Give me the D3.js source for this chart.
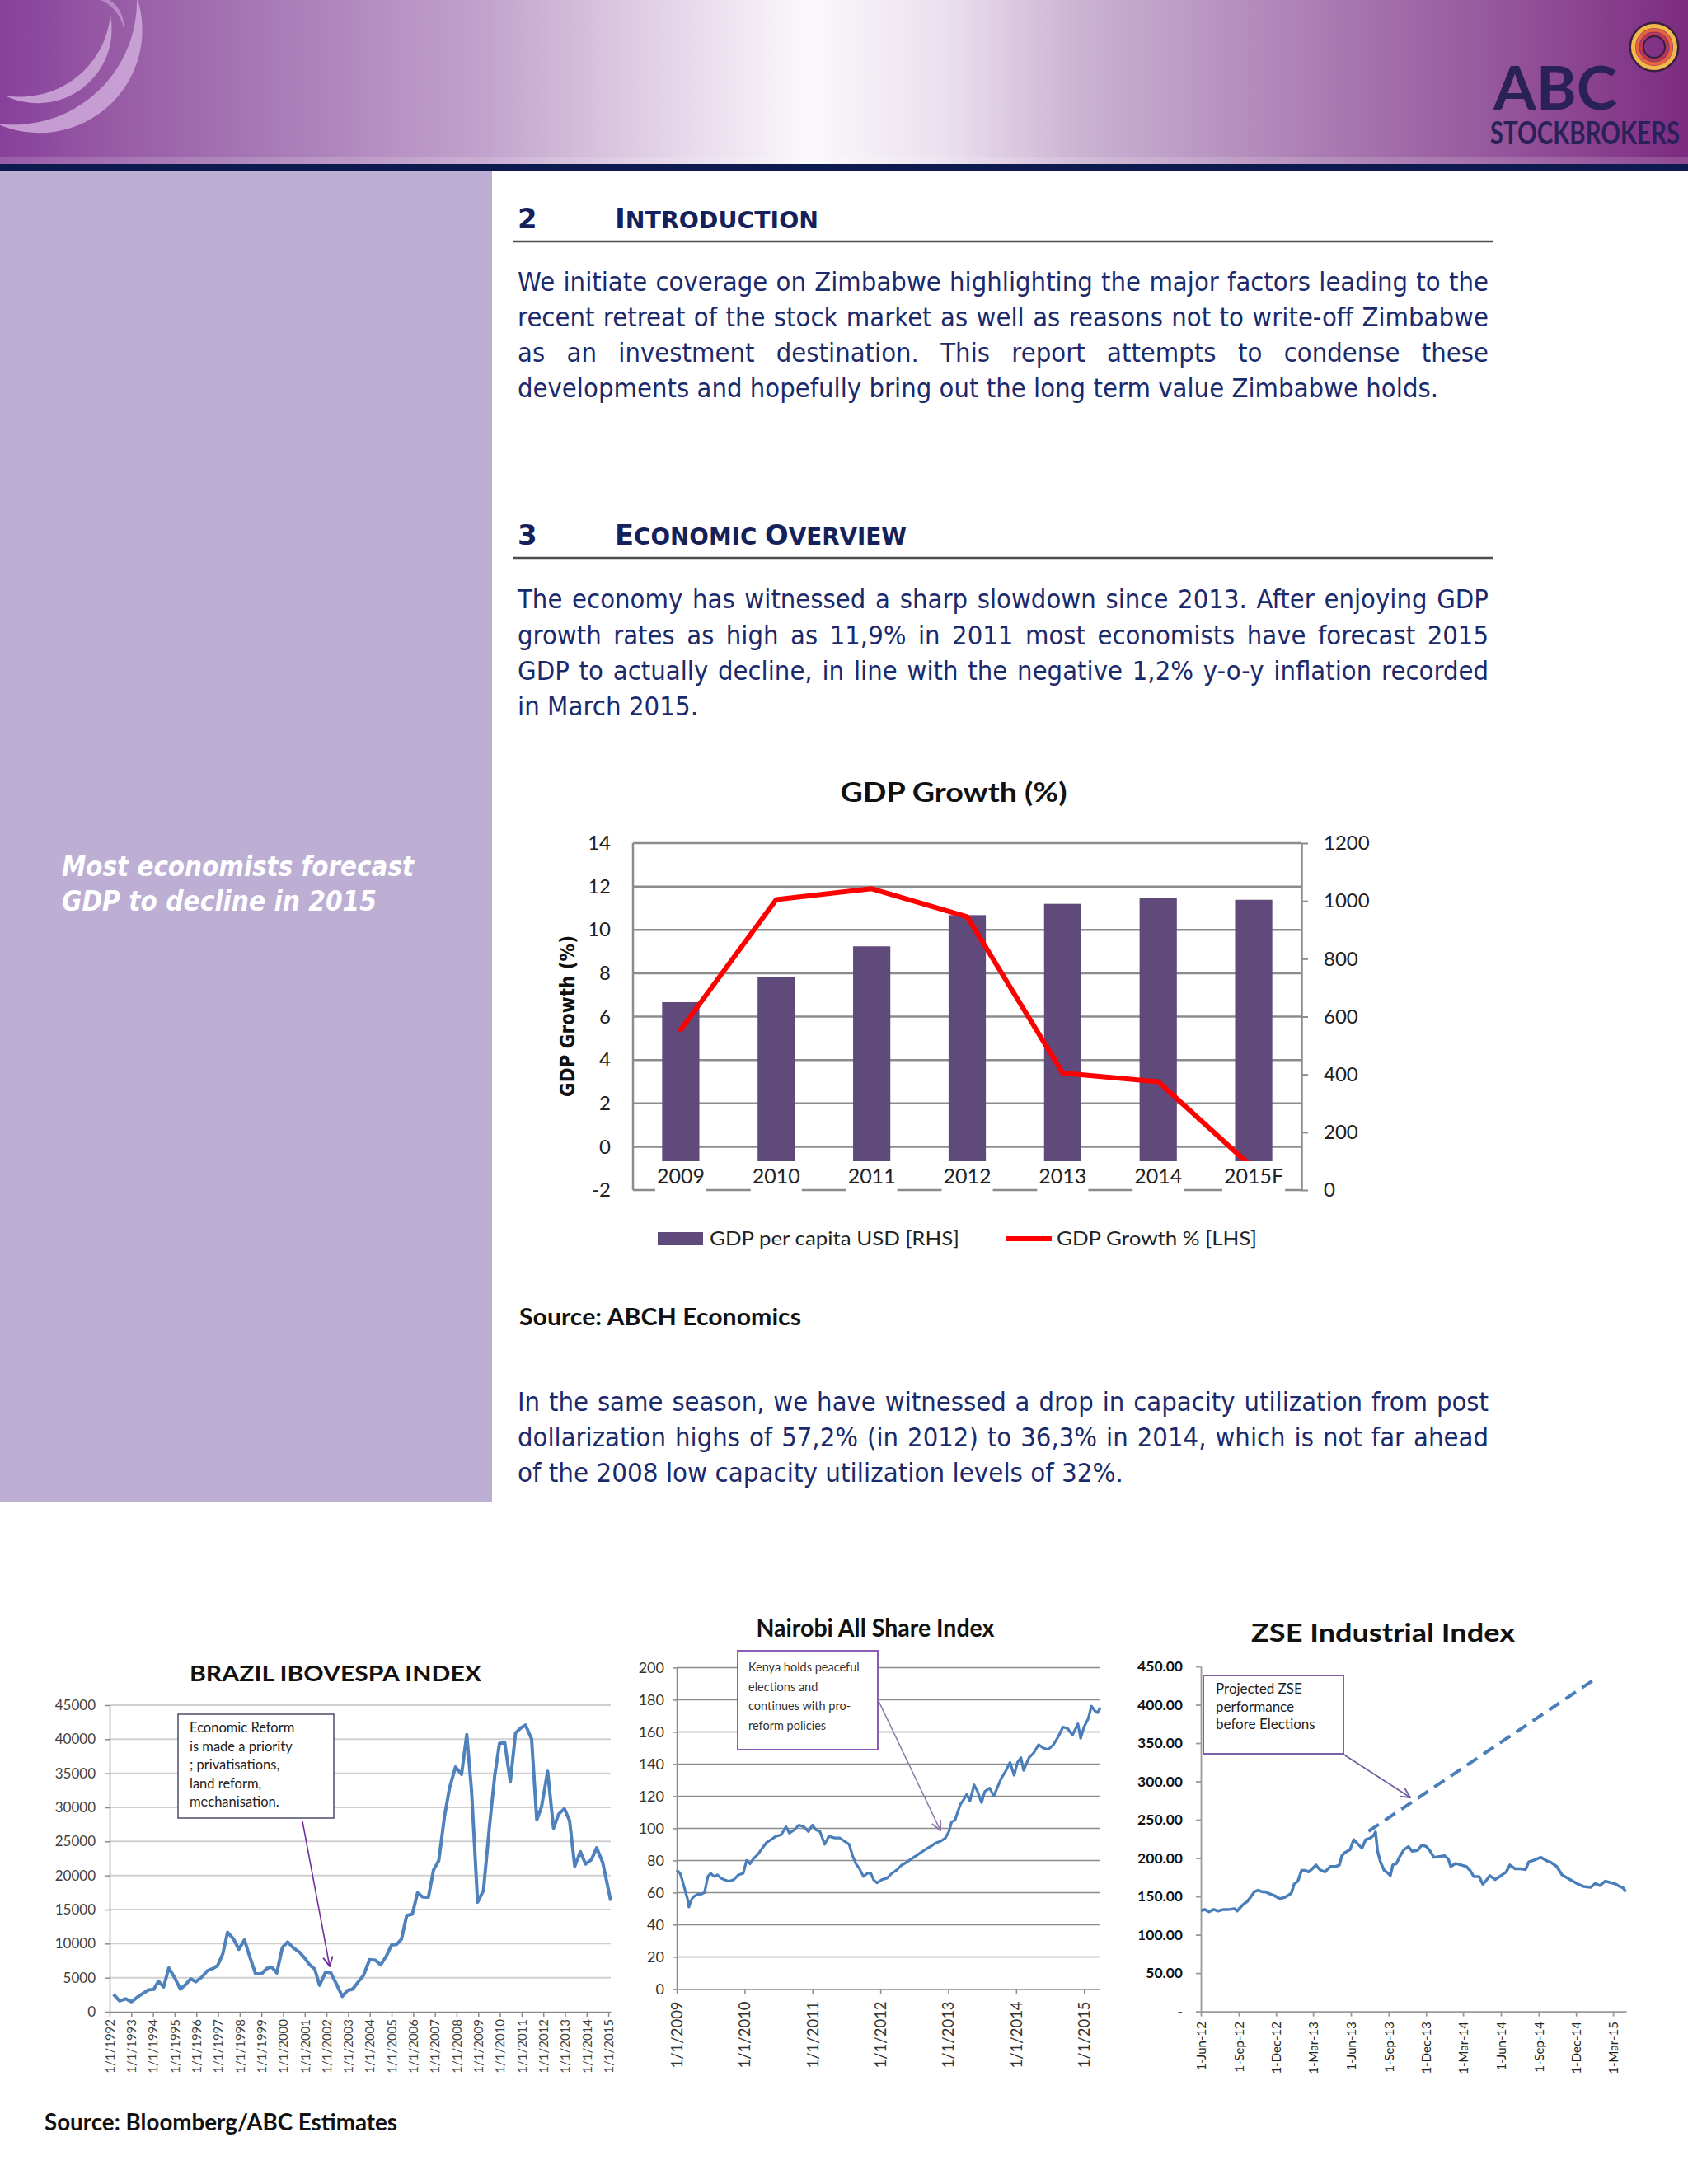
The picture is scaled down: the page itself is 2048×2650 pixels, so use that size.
<!DOCTYPE html>
<html><head><meta charset="utf-8"><title>ABC Stockbrokers – Zimbabwe</title>
<script src="https://cdn.jsdelivr.net/npm/d3@7/dist/d3.min.js"></script>
<style>html,body{margin:0;padding:0;background:#fff;} svg{display:block;}</style>
</head><body>
<svg id="page" width="2048" height="2650" xmlns="http://www.w3.org/2000/svg"></svg>
<script>
// ---------------- DATA ----------------
const introLines = [
  "We initiate coverage on Zimbabwe highlighting the major factors leading to the",
  "recent retreat of the stock market as well as reasons not to write-off Zimbabwe",
  "as an investment destination. This report attempts to condense these",
  "developments and hopefully bring out the long term value Zimbabwe holds."];
const overviewLines = [
  "The economy has witnessed a sharp slowdown since 2013. After enjoying GDP",
  "growth rates as high as 11,9% in 2011 most economists have forecast 2015",
  "GDP to actually decline, in line with the negative 1,2% y-o-y inflation recorded",
  "in March 2015."];
const capacityLines = [
  "In the same season, we have witnessed a drop in capacity utilization from post",
  "dollarization highs of 57,2% (in 2012) to 36,3% in 2014, which is not far ahead",
  "of the 2008 low capacity utilization levels of 32%."];
const sidebarLines = ["Most economists forecast", "GDP to decline in 2015"];

const gdpYears = ["2009","2010","2011","2012","2013","2014","2015F"];
const gdpPerCapita = [650, 736, 843, 951, 990, 1011, 1004];
const gdpGrowth = [5.4, 11.4, 11.9, 10.6, 3.4, 3.0, -1.0];
const gdpLeftTicks = [-2, 0, 2, 4, 6, 8, 10, 12, 14];
const gdpRightTicks = [0, 200, 400, 600, 800, 1000, 1200];
const gdpLegend = ["GDP per capita USD [RHS]", "GDP Growth % [LHS]"];

const brazilYears = [1992.18,1992.46,1992.74,1993.01,1993.29,1993.57,1993.79,1994.03,1994.25,1994.49,
  1994.73,1995.01,1995.26,1995.50,1995.74,1995.97,1996.24,1996.52,1996.76,1996.98,
  1997.22,1997.44,1997.72,1997.96,1998.22,1998.46,1998.73,1999.01,1999.25,1999.47,
  1999.71,1999.97,2000.21,2000.48,2000.76,2000.98,2001.22,2001.46,2001.68,2001.96,
  2002.20,2002.46,2002.73,2002.97,2003.21,2003.47,2003.71,2003.99,2004.26,2004.50,
  2004.76,2005.00,2005.24,2005.46,2005.70,2005.96,2006.20,2006.44,2006.70,2006.94,
  2007.18,2007.44,2007.68,2007.95,2008.23,2008.47,2008.69,2008.97,2009.24,2009.52,
  2009.76,2009.98,2010.22,2010.48,2010.72,2010.96,2011.18,2011.46,2011.70,2011.92,
  2012.20,2012.47,2012.71,2012.97,2013.21,2013.45,2013.71,2013.95,2014.22,2014.46,
  2014.74,2015.11];
const brazilValues = [2550,1600,1900,1470,2160,2760,3200,3280,4490,3630,
  6430,4920,3330,3970,4840,4400,5050,6050,6350,6780,
  8510,11660,10670,9160,10540,8080,5570,5570,6350,6560,
  5700,9460,10240,9370,8720,7950,6910,6260,3890,5830,
  5700,4060,2250,3110,3330,4400,5360,7650,7560,6870,
  8160,9800,9890,10670,14120,14340,17450,16840,16800,20820,
  22200,28590,32910,35930,34850,40680,32480,16070,17790,27300,
  34640,39390,39520,33770,40900,41640,42070,40040,28160,30100,
  35290,26950,29020,29800,28070,21340,23500,21680,22330,24060,
  21900,16280];
const brazilTickYears = [1992,1993,1994,1995,1996,1997,1998,1999,2000,2001,2002,2003,
  2004,2005,2006,2007,2008,2009,2010,2011,2012,2013,2014,2015];
const brazilTicks = [0,5000,10000,15000,20000,25000,30000,35000,40000,45000];
const brazilNote = ["Economic Reform","is made a priority","; privatisations,","land reform,","mechanisation."];

const nairobiYears = [2009.00,2009.05,2009.08,2009.12,2009.16,2009.18,2009.21,2009.24,2009.27,2009.31,
  2009.36,2009.41,2009.46,2009.50,2009.55,2009.60,2009.65,2009.70,2009.77,2009.84,
  2009.91,2009.98,2010.03,2010.08,2010.13,2010.20,2010.25,2010.32,2010.39,2010.46,
  2010.54,2010.61,2010.66,2010.73,2010.80,2010.87,2010.94,2011.00,2011.05,2011.11,
  2011.18,2011.24,2011.33,2011.40,2011.47,2011.54,2011.59,2011.64,2011.69,2011.75,
  2011.81,2011.86,2011.90,2011.95,2012.02,2012.10,2012.17,2012.24,2012.31,2012.39,
  2012.46,2012.53,2012.60,2012.67,2012.75,2012.82,2012.89,2012.96,2013.01,2013.05,
  2013.10,2013.13,2013.18,2013.23,2013.27,2013.32,2013.38,2013.43,2013.49,2013.54,
  2013.61,2013.67,2013.73,2013.78,2013.85,2013.91,2013.97,2014.02,2014.07,2014.11,
  2014.19,2014.26,2014.33,2014.40,2014.47,2014.55,2014.62,2014.69,2014.76,2014.83,
  2014.91,2014.95,2015.00,2015.06,2015.11,2015.16,2015.20,2015.24];
const nairobiValues = [74,72,68,62,56,51,55,57,58,59,
  59,60,70,72,70,71,69,68,67,68,
  71,72,80,78,81,84,87,91,93,95,
  96,101,97,99,102,101,98,102,99,98,
  90,95,94,94,92,90,83,78,75,70,
  72,72,68,66,68,69,72,74,77,79,
  81,83,85,87,89,91,92,94,98,104,
  105,109,115,118,121,117,127,123,116,123,
  125,120,126,131,136,141,133,141,144,136,
  144,147,152,150,149,152,157,163,162,158,
  165,156,163,168,176,173,172,175];
const nairobiTickYears = [2009,2010,2011,2012,2013,2014,2015];
const nairobiTicks = [0,20,40,60,80,100,120,140,160,180,200];
const nairobiNote = ["Kenya holds peaceful","elections and","continues with pro-","reform policies"];

const zseDates = ["2012-06-01","2012-06-10","2012-06-21","2012-07-02","2012-07-13","2012-07-26","2012-08-08","2012-08-22","2012-08-28","2012-09-04",
  "2012-09-13","2012-09-21","2012-09-30","2012-10-09","2012-10-18","2012-10-28","2012-11-04","2012-11-13","2012-11-27","2012-12-10",
  "2012-12-23","2013-01-01","2013-01-07","2013-01-14","2013-01-23","2013-02-01","2013-02-10","2013-02-18","2013-02-27","2013-03-08",
  "2013-03-17","2013-03-30","2013-04-12","2013-04-25","2013-05-04","2013-05-10","2013-05-17","2013-05-30","2013-06-08","2013-06-17",
  "2013-06-28","2013-07-07","2013-07-18","2013-07-27","2013-07-31","2013-08-05","2013-08-12","2013-08-21","2013-08-31","2013-09-05",
  "2013-09-11","2013-09-20","2013-09-29","2013-10-08","2013-10-19","2013-10-28","2013-11-10","2013-11-21","2013-12-02","2013-12-11",
  "2013-12-20","2014-01-02","2014-01-15","2014-01-24","2014-01-30","2014-02-11","2014-02-24","2014-03-09","2014-03-18","2014-03-27",
  "2014-04-09","2014-04-18","2014-04-25","2014-05-05","2014-05-18","2014-06-01","2014-06-14","2014-06-23","2014-07-06","2014-07-19",
  "2014-07-31","2014-08-08","2014-08-19","2014-09-06","2014-09-19","2014-10-02","2014-10-15","2014-10-28","2014-11-10","2014-11-23",
  "2014-12-06","2014-12-19","2015-01-06","2015-01-17","2015-01-28","2015-02-10","2015-02-23","2015-03-08","2015-03-17","2015-03-26",
  "2015-04-01"];
const zseValues = [131,133,130,133,131,133,133,134,131,135,
  140,143,149,156,158,156,156,154,151,147,
  149,152,154,166,170,184,184,182,186,191,
  185,182,189,189,191,203,207,211,224,219,
  213,224,226,230,234,209,195,184,180,177,
  191,193,203,211,215,209,210,217,215,209,
  201,202,203,199,189,193,191,189,184,176,
  176,166,170,177,172,177,182,191,186,186,
  185,195,197,201,197,194,189,178,174,170,
  166,163,162,167,164,170,168,166,163,161,
  156];
const zseProjDates = ["2013-07-14","2015-01-23"];
const zseProjValues = [235, 436];
const zseTickDates = ["2012-06-01","2012-09-01","2012-12-01","2013-03-01","2013-06-01","2013-09-01",
  "2013-12-01","2014-03-01","2014-06-01","2014-09-01","2014-12-01","2015-03-01"];
const zseTicks = [0,50,100,150,200,250,300,350,400,450];
const zseNote = ["Projected ZSE","performance","before Elections"];

// ---------------- DRAWING ----------------
const svg = d3.select("#page");
const defs = svg.append("defs");
const CAL = "Lato, 'Open Sans', 'Liberation Sans', sans-serif";
const TAH = "'DejaVu Sans', Verdana, sans-serif";
const NAVY = "#1b2a6b";
function fit(t, w) { return t.attr("textLength", w).attr("lengthAdjust", "spacingAndGlyphs"); }

// Header
const hg = defs.append("linearGradient").attr("id", "hdrGrad");
[[0,"#87409a"],[0.06,"#9658a4"],[0.15,"#a577b4"],[0.29,"#c3a3cd"],[0.38,"#dfcde4"],[0.48,"#fbf8fb"],
 [0.56,"#ebe0ee"],[0.64,"#cbb2d3"],[0.80,"#a676ae"],[0.92,"#8f4a95"],[1,"#7c2b80"]]
  .forEach(([o,c]) => hg.append("stop").attr("offset", o).attr("stop-color", c));
defs.append("clipPath").attr("id","hdrClip").append("rect").attr("x",0).attr("y",0).attr("width",2048).attr("height",199);
svg.append("rect").attr("x",0).attr("y",0).attr("width",2048).attr("height",199).attr("fill","url(#hdrGrad)");
function crescent(p1, p2, rOut, rIn) {
  return `M${p1[0]},${p1[1]} A${rOut},${rOut} 0 0 1 ${p2[0]},${p2[1]} A${rIn},${rIn} 0 0 0 ${p1[0]},${p1[1]} Z`;
}
const sw = svg.append("g").attr("clip-path","url(#hdrClip)").attr("fill","#cfaadb").attr("fill-opacity",0.85);
sw.append("path").attr("d", crescent([166,-4],[-4,150],125,150));
sw.append("path").attr("d", crescent([134,18],[6,116],90,110));
sw.append("path").attr("d", crescent([106,-4],[150,34],36,48)).attr("fill-opacity",0.6);
svg.append("rect").attr("x",0).attr("y",191).attr("width",2048).attr("height",8).attr("fill","#fff").attr("opacity",0.15);
svg.append("rect").attr("x",0).attr("y",199).attr("width",2048).attr("height",9).attr("fill","#0c1a4d");
// Logo
const lg = svg.append("g").attr("fill","none");
lg.append("circle").attr("cx",2007).attr("cy",57).attr("r",29).attr("stroke","#3a1f3f").attr("stroke-width",3);
lg.append("circle").attr("cx",2007).attr("cy",57).attr("r",25.5).attr("stroke","#f2b94a").attr("stroke-width",5);
lg.append("circle").attr("cx",2007).attr("cy",57).attr("r",20.5).attr("stroke","#e8653a").attr("stroke-width",4);
lg.append("circle").attr("cx",2007).attr("cy",57).attr("r",16).attr("stroke","#c4394a").attr("stroke-width",3);
lg.append("circle").attr("cx",2007).attr("cy",57).attr("r",13).attr("stroke","#3a1f3f").attr("stroke-width",2);
fit(svg.append("text").attr("x",1812).attr("y",133).attr("font-family",CAL).attr("font-weight",700)
  .attr("font-size",72).attr("fill","#2a2157").text("ABC"), 150);
fit(svg.append("text").attr("transform","translate(1808,175) scale(1,1.28)").attr("font-family",CAL).attr("font-weight",700)
  .attr("font-size",30).attr("fill","#2a2157").text("STOCKBROKERS"), 230);

// Sidebar
svg.append("rect").attr("x",0).attr("y",208).attr("width",597).attr("height",1614).attr("fill","#bdaed3");
[[1063,427],[1105,382]].forEach(([y,w],i) => fit(svg.append("text").attr("x",75).attr("y",y)
  .attr("font-family",TAH).attr("font-weight",700).attr("font-style","italic").attr("font-size",33)
  .attr("fill","#fff").text(sidebarLines[i]), w));

// Section headings
function heading(num, parts, y, w) {
  svg.append("text").attr("x",628).attr("y",y).attr("font-family",TAH).attr("font-weight",700)
    .attr("font-size",34).attr("fill","#14215a").text(num);
  const t = svg.append("text").attr("x",746).attr("y",y).attr("font-family",TAH).attr("font-weight",700).attr("fill","#14215a");
  parts.forEach(([s,big]) => t.append("tspan").attr("font-size", big ? 34 : 28).text(s));
  fit(t, w);
  svg.append("line").attr("x1",622).attr("x2",1812).attr("y1",y+16).attr("y2",y+16).attr("stroke","#4d4d4d").attr("stroke-width",2.5);
}
heading("2", [["I",1],["NTRODUCTION",0]], 277, 247);
heading("3", [["E",1],["CONOMIC ",0],["O",1],["VERVIEW",0]], 661, 354);

const PF = 32;
const probe = svg.append("text").attr("font-family",TAH).attr("font-size",PF).text(introLines[3]);
const SX = Math.min(1, 1117 / probe.node().getComputedTextLength());
probe.remove();
function para(lines, baselines, lastWidth) {
  const g = svg.append("g").attr("transform",`translate(628,0) scale(${SX},1)`);
  lines.forEach((s,i) => {
    const t = g.append("text").attr("x",0).attr("y",baselines[i]).attr("font-family",TAH)
      .attr("font-size",PF).attr("fill",NAVY).text(s);
    if (i < lines.length - 1) {
      const nat = t.node().getComputedTextLength();
      const sp = (s.match(/ /g) || []).length;
      t.style("word-spacing", ((1178 / SX - nat) / sp).toFixed(2) + "px");
    } else fit(t, lastWidth / SX);
  });
}
para(introLines, [353,396,439,482], 1117);
para(overviewLines, [738,782,825,868], 219);
para(capacityLines, [1712,1755,1798], 735);

// ---------- GDP chart ----------
const gx = d3.scaleBand().domain(gdpYears).range([768,1579]).paddingInner(0.61).paddingOuter(0.305);
const yL = d3.scaleLinear().domain([-2,14]).range([1444,1023]);
const yR = d3.scaleLinear().domain([0,1200]).range([1444,1023]);
const g1 = svg.append("g");
fit(g1.append("text").attr("x",1157).attr("y",973).attr("text-anchor","middle").attr("font-family",CAL)
  .attr("font-weight",700).attr("font-size",33).attr("fill","#111").text("GDP Growth (%)"), 275);
g1.selectAll("line.grid").data(gdpLeftTicks).join("line").attr("class","grid")
  .attr("x1",768).attr("x2",1579).attr("y1",d=>yL(d)).attr("y2",d=>yL(d))
  .attr("stroke","#8c8c8c").attr("stroke-width",2.5);
g1.selectAll("rect.bar").data(gdpPerCapita).join("rect").attr("class","bar")
  .attr("x",(d,i)=>gx(gdpYears[i])).attr("width",gx.bandwidth())
  .attr("y",d=>yR(d)).attr("height",d=>yR(0)-yR(d)).attr("fill","#5f4a7b");
g1.append("line").attr("x1",768).attr("x2",768).attr("y1",1023).attr("y2",1444).attr("stroke","#8c8c8c").attr("stroke-width",2.5);
const gdpLine = d3.line().x((d,i)=>gx(gdpYears[i])+gx.bandwidth()/2).y(d=>yL(d));
g1.append("path").datum(gdpGrowth).attr("d",gdpLine).attr("fill","none").attr("stroke","#ff0000")
  .attr("stroke-width",6).attr("stroke-linejoin","round").attr("stroke-linecap","round");
const catG = g1.selectAll("g.cat").data(gdpYears).join("g").attr("class","cat")
  .attr("transform",d=>`translate(${gx(d)+gx.bandwidth()/2},0)`);
catG.append("rect").attr("y",1409).attr("height",40).attr("fill","#fff");
catG.append("text").attr("y",1436).attr("text-anchor","middle").attr("font-family",CAL).attr("font-size",25)
  .attr("fill","#222").text(d=>d);
catG.each(function(){ const w = d3.select(this).select("text").node().getComputedTextLength();
  d3.select(this).select("rect").attr("x",-w/2-2).attr("width",w+4); });
const axL = g1.append("g").attr("transform","translate(768,0)")
  .call(d3.axisLeft(yL).tickValues(gdpLeftTicks).tickSize(0).tickPadding(27).tickFormat(d=>String(d)));
axL.select(".domain").remove();
axL.selectAll("text").attr("font-family",CAL).attr("font-size",24).attr("fill","#222");
const axR = g1.append("g").attr("transform","translate(1579,0)")
  .call(d3.axisRight(yR).tickValues(gdpRightTicks).tickSize(8).tickSizeOuter(0).tickPadding(19).tickFormat(d=>String(d)));
axR.select(".domain").attr("stroke","#8c8c8c").attr("stroke-width",2.5);
axR.selectAll(".tick line").attr("stroke","#8c8c8c").attr("stroke-width",2);
axR.selectAll("text").attr("font-family",CAL).attr("font-size",24).attr("fill","#222");
fit(g1.append("text").attr("transform","translate(697,1233) rotate(-90)").attr("text-anchor","middle")
  .attr("font-family",TAH).attr("font-weight",700).attr("font-size",25).attr("fill","#111").text("GDP Growth (%)"), 196);
g1.append("rect").attr("x",798).attr("y",1495).attr("width",55).attr("height",16).attr("fill","#5f4a7b");
fit(g1.append("text").attr("x",861).attr("y",1511).attr("font-family",CAL).attr("font-size",24).attr("fill","#222").text(gdpLegend[0]), 303);
g1.append("line").attr("x1",1221).attr("x2",1276).attr("y1",1503).attr("y2",1503).attr("stroke","#ff0000").attr("stroke-width",6);
fit(g1.append("text").attr("x",1282).attr("y",1511).attr("font-family",CAL).attr("font-size",24).attr("fill","#222").text(gdpLegend[1]), 243);
fit(svg.append("text").attr("x",630).attr("y",1608).attr("font-family",CAL).attr("font-weight",700)
  .attr("font-size",28).attr("fill","#111").text("Source: ABCH Economics"), 342);

function marker(id, color) {
  defs.append("marker").attr("id",id).attr("viewBox","0 0 12 12").attr("refX",11).attr("refY",6)
    .attr("markerWidth",14).attr("markerHeight",14).attr("markerUnits","userSpaceOnUse").attr("orient","auto")
    .append("path").attr("d","M1,1 L11,6 L1,11").attr("fill","none").attr("stroke",color).attr("stroke-width",1.6);
}
marker("arrB","#7030a0"); marker("arrN","#8d7aa8"); marker("arrZ","#6f5b9e");
function styleAxisText(ax, size, weight, color) {
  ax.selectAll("text").attr("font-family",CAL).attr("font-size",size).attr("font-weight",weight).attr("fill",color);
}

// ---------- Brazil ----------
const bx = d3.scaleLinear().domain([1992,2015.11]).range([133,741]);
const by = d3.scaleLinear().domain([0,45000]).range([2441,2069]);
const gb = svg.append("g");
fit(gb.append("text").attr("x",407).attr("y",2040).attr("text-anchor","middle").attr("font-family",CAL)
  .attr("font-weight",700).attr("font-size",27).attr("fill","#111").text("BRAZIL IBOVESPA INDEX"), 354);
gb.selectAll("line.grid").data(brazilTicks.filter(d=>d>0)).join("line").attr("class","grid")
  .attr("x1",133).attr("x2",741).attr("y1",d=>by(d)).attr("y2",d=>by(d)).attr("stroke","#d0d0d0").attr("stroke-width",2);
const bAxL = gb.append("g").attr("transform","translate(133,0)")
  .call(d3.axisLeft(by).tickValues(brazilTicks).tickSize(5).tickSizeOuter(0).tickPadding(12).tickFormat(d=>String(d)));
bAxL.selectAll(".domain,.tick line").attr("stroke","#8a8a8a").attr("stroke-width",1.5);
styleAxisText(bAxL, 17, 400, "#404040");
const bAxB = gb.append("g").attr("transform","translate(0,2441)")
  .call(d3.axisBottom(bx).tickValues(brazilTickYears).tickSize(6).tickSizeOuter(0).tickFormat(d=>"1/1/"+d));
bAxB.selectAll(".domain,.tick line").attr("stroke","#8a8a8a").attr("stroke-width",1.5);
styleAxisText(bAxB, 15, 400, "#404040");
bAxB.selectAll("text").attr("transform","rotate(-90)").attr("text-anchor","end").attr("x",-9).attr("y",0).attr("dy","0.35em");
gb.append("path").datum(brazilValues).attr("fill","none").attr("stroke","#4f81bd").attr("stroke-width",4)
  .attr("stroke-linejoin","round")
  .attr("d", d3.line().x((d,i)=>bx(brazilYears[i])).y(d=>by(d)));
gb.append("rect").attr("x",216).attr("y",2080).attr("width",189).attr("height",126).attr("fill","#fff")
  .attr("stroke","#4b4b6b").attr("stroke-width",1.5);
gb.selectAll("text.note").data(brazilNote).join("text").attr("class","note").attr("x",230)
  .attr("y",(d,i)=>2102+i*22.5).attr("font-family",CAL).attr("font-size",16.5).attr("fill","#222").text(d=>d);
gb.append("line").attr("x1",367).attr("y1",2210).attr("x2",400).attr("y2",2386).attr("stroke","#7030a0")
  .attr("stroke-width",1.6).attr("marker-end","url(#arrB)");

// ---------- Nairobi ----------
const nx = d3.scaleLinear().domain([2009,2015.24]).range([821,1335]);
const ny = d3.scaleLinear().domain([0,200]).range([2413.4,2023.4]);
const gn = svg.append("g");
fit(gn.append("text").attr("x",1062).attr("y",1986).attr("text-anchor","middle").attr("font-family",CAL)
  .attr("font-weight",700).attr("font-size",31).attr("fill","#111").text("Nairobi All Share Index"), 289);
gn.selectAll("line.grid").data(nairobiTicks.filter(d=>d>0)).join("line").attr("class","grid")
  .attr("x1",821).attr("x2",1335).attr("y1",d=>ny(d)).attr("y2",d=>ny(d)).attr("stroke","#8c8c8c").attr("stroke-width",1.5);
const nAxL = gn.append("g").attr("transform","translate(821,0)")
  .call(d3.axisLeft(ny).tickValues(nairobiTicks).tickSize(4).tickSizeOuter(0).tickPadding(11).tickFormat(d=>String(d)));
nAxL.selectAll(".domain,.tick line").attr("stroke","#8c8c8c").attr("stroke-width",1.5);
styleAxisText(nAxL, 18, 400, "#333");
const nAxB = gn.append("g").attr("transform","translate(0,2413.4)")
  .call(d3.axisBottom(nx).tickValues(nairobiTickYears).tickSize(6).tickSizeOuter(0).tickFormat(d=>"1/1/"+d));
nAxB.selectAll(".domain,.tick line").attr("stroke","#8c8c8c").attr("stroke-width",1.5);
styleAxisText(nAxB, 18.5, 400, "#333");
nAxB.selectAll("text").attr("transform","rotate(-90)").attr("text-anchor","end").attr("x",-15).attr("y",0).attr("dy","0.35em");
gn.append("path").datum(nairobiValues).attr("fill","none").attr("stroke","#4a7ebb").attr("stroke-width",3.2)
  .attr("stroke-linejoin","round")
  .attr("d", d3.line().x((d,i)=>nx(nairobiYears[i])).y(d=>ny(d)));
gn.append("rect").attr("x",895).attr("y",2003).attr("width",170).attr("height",120).attr("fill","#fff")
  .attr("stroke","#8a5cb8").attr("stroke-width",2);
gn.selectAll("text.note").data(nairobiNote).join("text").attr("class","note").attr("x",908)
  .attr("y",(d,i)=>2028+i*23.7).attr("font-family",CAL).attr("font-size",14.5).attr("fill","#333").text(d=>d);
gn.append("line").attr("x1",1066).attr("y1",2064).attr("x2",1141).attr("y2",2221).attr("stroke","#8d7aa8")
  .attr("stroke-width",1.6).attr("marker-end","url(#arrN)");

// ---------- ZSE ----------
const parse = d3.timeParse("%Y-%m-%d");
const zx = d3.scaleTime().domain([parse("2012-06-01"), parse("2015-04-02")]).range([1457,1973]);
const zy = d3.scaleLinear().domain([0,450]).range([2440.6,2022]);
const gz = svg.append("g");
fit(gz.append("text").attr("x",1678).attr("y",1992).attr("text-anchor","middle").attr("font-family",CAL)
  .attr("font-weight",700).attr("font-size",31).attr("fill","#111").text("ZSE Industrial Index"), 320);
const zAxL = gz.append("g").attr("transform","translate(1457,0)")
  .call(d3.axisLeft(zy).tickValues(zseTicks).tickSize(6).tickSizeOuter(0).tickPadding(16)
    .tickFormat(d => d === 0 ? "-" : d3.format(".2f")(d)));
zAxL.selectAll(".domain,.tick line").attr("stroke","#9a9a9a").attr("stroke-width",1.8);
styleAxisText(zAxL, 17.5, 700, "#111");
const zAxB = gz.append("g").attr("transform","translate(0,2440.6)")
  .call(d3.axisBottom(zx).tickValues(zseTickDates.map(parse)).tickSize(6).tickSizeOuter(0).tickFormat(d3.timeFormat("%-d-%b-%y")));
zAxB.selectAll(".domain,.tick line").attr("stroke","#9a9a9a").attr("stroke-width",1.8);
styleAxisText(zAxB, 15, 400, "#222");
zAxB.selectAll("text").attr("transform","rotate(-90)").attr("text-anchor","end").attr("x",-12.5).attr("y",0).attr("dy","0.35em");
gz.append("path").datum(zseValues).attr("fill","none").attr("stroke","#4a7ebb").attr("stroke-width",3.5)
  .attr("stroke-linejoin","round")
  .attr("d", d3.line().x((d,i)=>zx(parse(zseDates[i]))).y(d=>zy(d)));
gz.append("path").datum(zseProjValues).attr("fill","none").attr("stroke","#4a7ebb").attr("stroke-width",4)
  .attr("stroke-dasharray","15,9")
  .attr("d", d3.line().x((d,i)=>zx(parse(zseProjDates[i]))).y(d=>zy(d)));
gz.append("rect").attr("x",1460).attr("y",2033).attr("width",170).attr("height",95).attr("fill","#fff")
  .attr("stroke","#7f5fa5").attr("stroke-width",2);
gz.selectAll("text.note").data(zseNote).join("text").attr("class","note").attr("x",1475)
  .attr("y",(d,i)=>2055+i*21.5).attr("font-family",CAL).attr("font-size",17).attr("fill","#222").text(d=>d);
gz.append("line").attr("x1",1629).attr("y1",2128).attr("x2",1711).attr("y2",2181).attr("stroke","#6f5b9e")
  .attr("stroke-width",1.6).attr("marker-end","url(#arrZ)");

fit(svg.append("text").attr("x",54).attr("y",2585).attr("font-family",CAL).attr("font-weight",700)
  .attr("font-size",28).attr("fill","#111").text("Source: Bloomberg/ABC Estimates"), 428);
</script>
</body></html>
